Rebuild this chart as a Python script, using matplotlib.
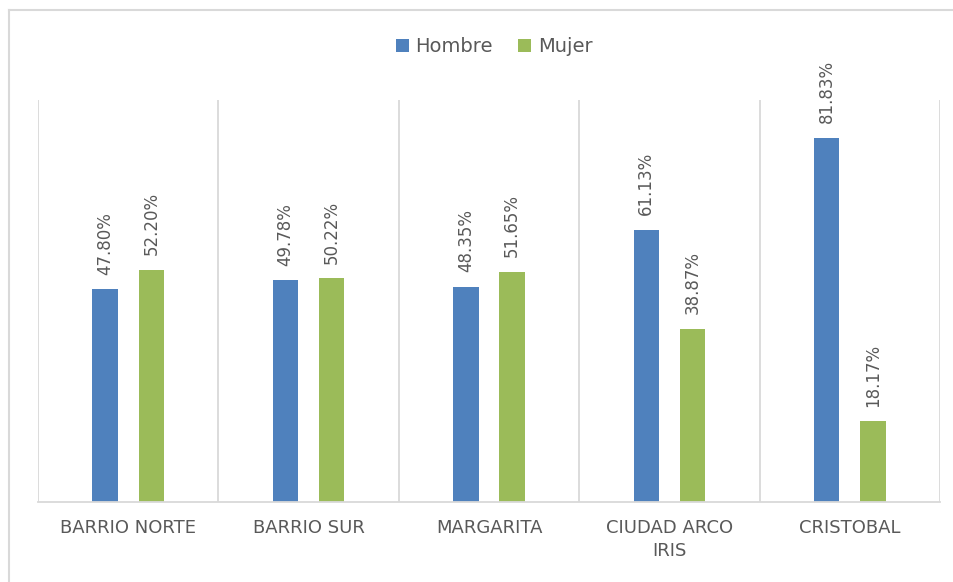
import numpy as np
import matplotlib.pyplot as plt
from matplotlib.lines import Line2D

categories = ["BARRIO NORTE", "BARRIO SUR", "MARGARITA", "CIUDAD ARCO\nIRIS", "CRISTOBAL"]
hombre = [47.80, 49.78, 48.35, 61.13, 81.83]
mujer = [52.20, 50.22, 51.65, 38.87, 18.17]

blue = "#4F81BD"
green = "#9BBB59"
grid_c = "#D9D9D9"
text_c = "#595959"

fig = plt.figure(figsize=(9.54, 5.82), dpi=100)
ax = fig.add_axes([38 / 954, 1 - 502 / 582, 902 / 954, 402 / 582])

x = np.arange(len(categories))
w = 0.14
off = 0.128
b1 = ax.bar(x - off, hombre, w, color=blue, label="Hombre")
b2 = ax.bar(x + off, mujer, w, color=green, label="Mujer")

for bars, vals in ((b1, hombre), (b2, mujer)):
    for r, v in zip(bars, vals):
        ax.annotate(f"{v:.2f}%", (r.get_x() + r.get_width() / 2, v),
                    xytext=(0, 10.5), textcoords="offset points",
                    rotation=90, ha="center", va="bottom",
                    fontsize=12, color=text_c)

ax.set_xlim(-0.5, len(categories) - 0.5)
ax.set_ylim(0, 90.3)
for s in np.arange(-0.5, len(categories), 1.0):
    ax.axvline(s, color=grid_c, lw=1.3, zorder=0)

for sp in ["top", "left", "right"]:
    ax.spines[sp].set_visible(False)
ax.spines["bottom"].set_color(grid_c)
ax.spines["bottom"].set_linewidth(1.3)
ax.set_yticks([])
ax.set_xticks(x)
ax.set_xticklabels(categories, fontsize=13, color=text_c, linespacing=1.35)
ax.tick_params(axis="x", length=0, pad=12)

fig.legend(handles=[b1, b2], labels=["Hombre", "Mujer"], loc="center",
           bbox_to_anchor=(0.518, 1 - 47 / 582), ncol=2, frameon=False,
           fontsize=14, handlelength=0.65, handleheight=0.65,
           handletextpad=0.35, columnspacing=1.3, labelcolor=text_c)

# thin border at the top and left of the picture
fig.add_artist(Line2D([9 / 954, 1.0], [1 - 10 / 582] * 2, color=grid_c, lw=1.5))
fig.add_artist(Line2D([9 / 954] * 2, [0, 1 - 10 / 582], color=grid_c, lw=1.5))

plt.savefig("out.png", dpi=100)
